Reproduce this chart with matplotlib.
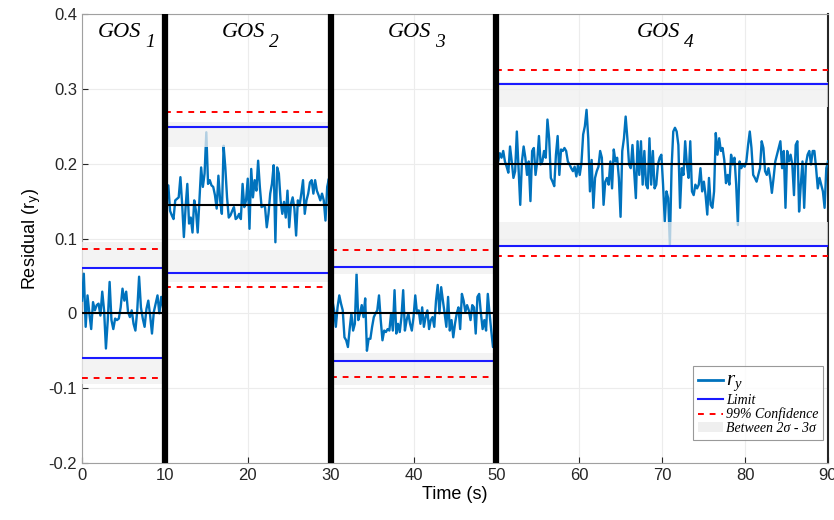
import matplotlib
matplotlib.use("Agg")
import matplotlib.pyplot as plt
import numpy as np
from matplotlib.lines import Line2D
from matplotlib.patches import Patch

# residual r_y, one list per operating segment
seg_bounds = [(0, 10), (10, 30), (30, 50), (50, 90)]
seg_names = ["1", "2", "3", "4"]

r_seg1 = [0.017, 0.053, -0.018, 0.024, 0.0, -0.021, 0.015, 0.004, 0.011, 0.013,
          -0.003, 0.029, 0.004, -0.047, -0.009, 0.042, -0.009, -0.021, -0.007, -0.009,
          -0.007, 0.008, 0.033, 0.017, 0.029, 0.002, -0.005, 0.004, -0.014, -0.023,
          0.004, 0.049, 0.008, -0.007, -0.018, 0.006, 0.017, -0.003, -0.027, 0.002,
          0.013, 0.024, 0.0, 0.022, 0.008, -0.009]

r_seg2 = [0.184, 0.171, 0.171, 0.137, 0.131, 0.126, 0.151, 0.153, 0.155, 0.182,
          0.146, 0.102, 0.142, 0.173, 0.120, 0.128, 0.108, 0.151, 0.137, 0.108,
          0.151, 0.195, 0.169, 0.187, 0.242, 0.173, 0.178, 0.171, 0.169, 0.158,
          0.140, 0.184, 0.151, 0.133, 0.224, 0.195, 0.155, 0.128, 0.131, 0.137,
          0.142, 0.126, 0.128, 0.133, 0.126, 0.173, 0.142, 0.151, 0.180, 0.113,
          0.193, 0.155, 0.178, 0.164, 0.204, 0.169, 0.142, 0.144, 0.142, 0.115,
          0.133, 0.160, 0.173, 0.198, 0.095, 0.195, 0.187, 0.151, 0.133, 0.149,
          0.128, 0.164, 0.115, 0.146, 0.155, 0.140, 0.104, 0.151, 0.144, 0.160,
          0.178, 0.133, 0.151, 0.160, 0.175, 0.178, 0.160, 0.178, 0.164, 0.158,
          0.151, 0.160, 0.151, 0.124, 0.169, 0.180, 0.146]

r_seg3 = [0.0, 0.017, 0.004, -0.018, 0.008, 0.024, 0.013, 0.004, -0.032, -0.036,
          -0.045, -0.021, 0.0, -0.023, -0.014, 0.053, -0.009, 0.0, 0.011, -0.005,
          0.020, -0.050, -0.034, -0.034, -0.018, -0.005, 0.0, 0.004, 0.024, -0.009,
          -0.036, -0.023, -0.025, -0.021, -0.023, 0.0, -0.023, 0.031, -0.027, -0.014,
          -0.025, -0.005, 0.031, -0.023, -0.009, 0.0, -0.014, -0.023, -0.005, 0.024,
          0.0, 0.004, -0.014, 0.008, -0.018, -0.005, 0.004, -0.021, -0.009, -0.005,
          -0.018, 0.017, 0.038, 0.0, 0.035, 0.017, 0.0, -0.018, 0.022, -0.023,
          -0.009, -0.032, -0.014, 0.0, 0.008, -0.021, 0.026, 0.017, 0.002, 0.011,
          0.004, -0.009, 0.011, 0.008, -0.027, 0.022, 0.026, 0.0, -0.021, -0.009,
          -0.023, 0.026, 0.0, -0.023, -0.045, -0.027, -0.016]

r_seg4 = [0.199, 0.203, 0.214, 0.208, 0.217, 0.203, 0.196, 0.188, 0.223, 0.203,
          0.181, 0.190, 0.243, 0.194, 0.145, 0.203, 0.223, 0.208, 0.185, 0.203,
          0.150, 0.217, 0.221, 0.185, 0.203, 0.237, 0.199, 0.203, 0.217, 0.208,
          0.259, 0.234, 0.181, 0.176, 0.170, 0.212, 0.237, 0.185, 0.219, 0.217,
          0.221, 0.217, 0.203, 0.199, 0.194, 0.190, 0.196, 0.183, 0.199, 0.185,
          0.201, 0.239, 0.250, 0.272, 0.234, 0.163, 0.205, 0.141, 0.181, 0.190,
          0.196, 0.217, 0.208, 0.145, 0.176, 0.181, 0.172, 0.203, 0.167, 0.219,
          0.203, 0.208, 0.181, 0.129, 0.217, 0.234, 0.263, 0.234, 0.199, 0.194,
          0.225, 0.190, 0.154, 0.230, 0.185, 0.230, 0.172, 0.217, 0.172, 0.167,
          0.234, 0.172, 0.217, 0.167, 0.172, 0.199, 0.208, 0.212, 0.172, 0.123,
          0.163, 0.154,
          0.0915, 0.194, 0.243, 0.248, 0.243, 0.225, 0.141, 0.194, 0.185, 0.230,
          0.199, 0.181, 0.230, 0.163, 0.158, 0.172, 0.167, 0.172, 0.194, 0.163,
          0.176, 0.158, 0.132, 0.181, 0.145, 0.141, 0.163, 0.241, 0.212, 0.234,
          0.217, 0.221, 0.205, 0.174, 0.185, 0.172, 0.212, 0.199, 0.208, 0.172,
          0.118, 0.203, 0.194, 0.199, 0.196, 0.203, 0.225, 0.243, 0.221, 0.185,
          0.181, 0.176, 0.185, 0.194, 0.230, 0.221, 0.190, 0.185, 0.194, 0.181,
          0.161, 0.181, 0.203, 0.212, 0.221, 0.230, 0.194, 0.217, 0.141, 0.217,
          0.203, 0.212, 0.199, 0.158, 0.225, 0.230, 0.136, 0.172, 0.203, 0.141,
          0.199, 0.212, 0.217, 0.199, 0.217, 0.217, 0.194, 0.167, 0.181, 0.172,
          0.163, 0.141, 0.194, 0.203]

residuals = [r_seg1, r_seg2, r_seg3, r_seg4]

# per-segment statistics
seg_mean = [0.0, 0.145, 0.0, 0.2]
limit_hi = [0.060, 0.249, 0.062, 0.307]
limit_lo = [-0.060, 0.0545, -0.064, 0.0905]
conf_hi = [0.086, 0.269, 0.085, 0.325]
conf_lo = [-0.086, 0.035, -0.085, 0.076]
band_hi = [(0.060, 0.095), (0.222, 0.256), (0.053, 0.098), (0.276, 0.309)]
band_lo = [(-0.095, -0.060), (0.042, 0.084), (-0.096, -0.053), (0.090, 0.122)]

sig_color = "#0072BD"
lim_color = "#1a1aff"
serif_it = {"family": "Liberation Serif", "style": "italic"}

plt.rcParams["font.family"] = ["Liberation Sans", "DejaVu Sans"]
plt.rcParams["mathtext.fontset"] = "custom"
plt.rcParams["mathtext.it"] = "Liberation Serif:italic"
plt.rcParams["mathtext.rm"] = "Liberation Serif"

fig = plt.figure(figsize=(8.34, 5.2), dpi=100)
ax = fig.add_axes([0.0983, 0.1096, 0.8945, 0.8634])

for i, (a, b) in enumerate(seg_bounds):
    r = residuals[i]
    t = np.linspace(a, b, len(r))
    ax.plot(t, r, color=sig_color, lw=1.7, zorder=3)
    ax.hlines(seg_mean[i], a, b, color="black", lw=1.5, zorder=4)
    ax.hlines([limit_hi[i], limit_lo[i]], a, b, color=lim_color, lw=1.5, zorder=5)
    ax.hlines([conf_hi[i], conf_lo[i]], a, b, color="red", lw=1.4,
              linestyles=(0, (3, 3)), zorder=5)
    for lo, hi in (band_hi[i], band_lo[i]):
        ax.fill_between([a, b], lo, hi, facecolor="#efefef", alpha=0.75,
                        edgecolor="none", zorder=4)
    # segment title: GOS with a dropped subscript
    xc = (a + b) / 2
    gos = ax.text(xc - 0.5, 0.375, "GOS", ha="center", va="center", fontsize=16,
                  zorder=6, **serif_it)
    ax.annotate(seg_names[i], xy=(1, 0), xycoords=gos, xytext=(3, -6),
                textcoords="offset points", ha="left", va="bottom",
                fontsize=14, zorder=6, **serif_it)

# segment separators
for xb in [10, 30, 50]:
    ax.axvline(xb, color="black", lw=4.5, zorder=6)

ax.set_xlim(0, 90)
ax.set_ylim(-0.2, 0.4)
ax.set_xticks(np.arange(0, 91, 10))
ax.set_yticks(np.arange(-0.2, 0.41, 0.1))
ax.set_yticklabels(["-0.2", "-0.1", "0", "0.1", "0.2", "0.3", "0.4"])
ax.tick_params(direction="in", labelsize=12, colors="#262626", length=4)
ax.grid(True, color="#ececec", lw=0.8, zorder=0)
for s in ax.spines.values():
    s.set_color("#a0a0a0")
ax.spines["right"].set_color("#262626")
ax.spines["right"].set_linewidth(1.5)

ax.set_xlabel("Time (s)", fontsize=13, labelpad=2)
ax.set_ylabel(r"Residual (r$_\mathsf{y}$)", fontsize=13)

handles = [
    Line2D([], [], color=sig_color, lw=2),
    Line2D([], [], color=lim_color, lw=1.5),
    Line2D([], [], color="red", lw=1.4, ls=(0, (3, 3))),
    Patch(facecolor="#efefef", edgecolor="none"),
]
labels = [r"$r_y$", "Limit", "99% Confidence", "Between 2σ - 3σ"]
leg = ax.legend(handles, labels, loc="lower right", bbox_to_anchor=(0.997, 0.045),
                prop={"family": "Liberation Serif", "style": "italic", "size": 10},
                frameon=True, fancybox=False, edgecolor="#808080",
                handlelength=1.8, handletextpad=0.2, labelspacing=0.05,
                borderpad=0.35, borderaxespad=0.2)
leg.get_frame().set_linewidth(0.8)
leg.set_zorder(10)
leg.get_texts()[0].set_fontsize(15)

fig.savefig("out.png", dpi=100)
